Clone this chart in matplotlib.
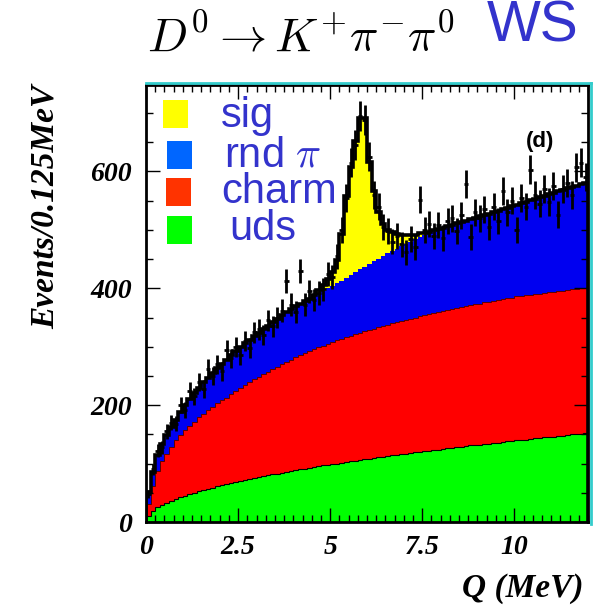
import numpy as np
import matplotlib.pyplot as plt
from matplotlib.patches import Rectangle
from matplotlib.lines import Line2D
from matplotlib.ticker import MultipleLocator

plt.rcParams['mathtext.fontset'] = 'cm'

# Q histogram, 96 bins of 0.125 MeV from 0 to 12 MeV
q_lo, q_hi, n_bins = 0.0, 12.0, 96

# stacked components (events per bin)
uds = [11, 19, 25, 29, 33, 36, 40, 43, 45, 48,
       50, 53, 55, 57, 59, 61, 63, 65, 67, 69,
       70, 72, 74, 75, 77, 79, 80, 82, 83, 84,
       86, 87, 89, 90, 91, 93, 94, 95, 97, 98,
       99, 100, 101, 103, 104, 105, 106, 107, 108, 109,
       111, 112, 113, 114, 115, 116, 117, 118, 119, 120,
       121, 122, 123, 124, 125, 126, 127, 128, 129, 130,
       131, 132, 132, 133, 134, 135, 136, 137, 138, 139,
       140, 140, 141, 142, 143, 144, 145, 146, 146, 147,
       148, 149, 150, 150, 151, 152]
charm = [19, 43, 63, 75, 84, 93, 100, 106, 112, 117,
         122, 126, 130, 134, 138, 142, 145, 148, 152, 155,
         159, 162, 165, 169, 171, 174, 177, 180, 183, 186,
         188, 191, 193, 195, 198, 199, 202, 204, 205, 207,
         209, 211, 213, 214, 215, 217, 218, 220, 221, 222,
         222, 224, 225, 226, 227, 228, 229, 230, 231, 232,
         233, 234, 235, 235, 236, 237, 238, 238, 239, 240,
         240, 241, 242, 243, 243, 244, 244, 245, 245, 245,
         246, 247, 247, 247, 247, 247, 247, 247, 248, 248,
         248, 248, 248, 249, 249, 249]
rnd_pi = [22, 23, 27, 30, 32, 33, 35, 39, 43, 46,
          49, 51, 54, 56, 58, 60, 62, 65, 66, 68,
          70, 72, 73, 74, 76, 77, 79, 80, 82, 84,
          85, 86, 87, 89, 89, 90, 90, 92, 93, 95,
          96, 98, 99, 101, 104, 106, 109, 110, 113, 115,
          118, 119, 122, 124, 126, 128, 130, 132, 134, 136,
          137, 138, 139, 141, 142, 143, 144, 145, 146, 146,
          148, 148, 149, 150, 151, 152, 153, 154, 155, 157,
          157, 159, 160, 162, 163, 165, 166, 168, 169, 171,
          172, 174, 175, 176, 178, 179]
sig = [0, 0, 0, 0, 0, 0, 0, 0, 0, 0,
       0, 0, 0, 0, 0, 0, 0, 0, 0, 0,
       0, 0, 0, 0, 0, 0, 0, 0, 0, 0,
       0, 0, 0, 0, 0, 0, 3, 6, 10, 16,
       24, 40, 80, 140, 185, 225, 258, 255, 175, 120,
       80, 55, 40, 32, 25, 20, 15, 11, 8, 6,
       4, 3, 2, 1, 0, 0, 0, 0, 0, 0,
       0, 0, 0, 0, 0, 0, 0, 0, 0, 0,
       0, 0, 0, 0, 0, 0, 0, 0, 0, 0,
       0, 0, 0, 0, 0, 0]

# data points
data = [48, 90, 122, 128, 155, 170, 168, 200, 192, 225,
        215, 240, 228, 262, 250, 270, 258, 295, 280, 300,
        285, 310, 298, 325, 330, 320, 345, 335, 350, 362,
        412, 372, 360, 430, 372, 395, 380, 392, 398, 425,
        420, 455, 500, 555, 615, 645, 695, 688, 625, 560,
        540, 505, 498, 480, 490, 475, 462, 485, 470, 552,
        500, 510, 490, 508, 486, 515, 520, 498, 525, 578,
        488, 530, 520, 535, 505, 540, 515, 566, 530, 550,
        500, 555, 540, 603, 560, 545, 570, 548, 575, 526,
        570, 580, 560, 607, 615, 590]

legend_labels = ["sig", r"rnd $\pi$", "charm", "uds"]

edges = np.linspace(q_lo, q_hi, n_bins + 1)
centers = 0.5 * (edges[1:] + edges[:-1])
half_bin = 0.5 * (edges[1] - edges[0])

s1 = np.array(uds, dtype=float)
s2 = s1 + np.array(charm)
s3 = s2 + np.array(rnd_pi)
s4 = s3 + np.array(sig)
d = np.array(data, dtype=float)

W, H = 595, 607
fig = plt.figure(figsize=(W / 100, H / 100), dpi=100)
ax = fig.add_axes([146 / W, 1 - 522 / H, 442 / W, 437 / H])

c_green, c_red, c_blue, c_yellow = "#00ff00", "#ff0000", "#0000f0", "#ffff00"
ax.stairs(s1, edges, baseline=0, fill=True, color=c_green, lw=0)
ax.stairs(s2, edges, baseline=s1, fill=True, color=c_red, lw=0)
ax.stairs(s3, edges, baseline=s2, fill=True, color=c_blue, lw=0)
ax.stairs(s4, edges, baseline=s3, fill=True, color=c_yellow, lw=0)
ax.stairs(s1, edges, color="black", lw=0.8)
ax.stairs(s2, edges, color="#400000", lw=0.6)
ax.stairs(s4, edges, color="black", lw=2.6)

ax.errorbar(centers, d, yerr=np.sqrt(d), xerr=half_bin, fmt="none",
            ecolor="black", elinewidth=2.0, capsize=0)

ax.set_xlim(q_lo, q_hi)
ax.set_ylim(0, 748)
ax.xaxis.set_major_locator(MultipleLocator(2.5))
ax.xaxis.set_minor_locator(MultipleLocator(0.25))
ax.yaxis.set_major_locator(MultipleLocator(200))
ax.yaxis.set_minor_locator(MultipleLocator(50))
ax.tick_params(which="both", direction="in", top=True, right=True, width=1)
ax.tick_params(which="major", length=10)
ax.tick_params(which="minor", length=5)
ax.tick_params(axis="x", pad=9)
ax.tick_params(axis="y", pad=10)
ax.set_xticks([0, 2.5, 5, 7.5, 10])
ax.set_xticklabels(["0", "2.5", "5", "7.5", "10"])
for lab in ax.get_xticklabels() + ax.get_yticklabels():
    lab.set_family("Liberation Serif")
    lab.set_style("italic")
    lab.set_weight("bold")
    lab.set_fontsize(20)
for sp in ax.spines.values():
    sp.set_linewidth(2)

# cyan frame shadow on top and right
fig.add_artist(Line2D([146 / W, 591 / W], [1 - 83 / H, 1 - 83 / H], color="#33cccc", lw=2))
fig.add_artist(Line2D([591 / W, 591 / W], [1 - 83 / H, 1 - 524 / H], color="#33cccc", lw=2))

# legend
boxes = [(163, 100, "#ffff00"), (167, 141, "#0066ff"), (166, 178, "#ff3300"), (167, 216, "#00ff00")]
text_x = [221, 224, 221, 229]
text_y = [116, 155, 192, 229]
for (bx, by, col), lab, tx, ty in zip(boxes, legend_labels, text_x, text_y):
    fig.add_artist(Rectangle((bx / W, 1 - (by + 28) / H), 25 / W, 28 / H,
                             transform=fig.transFigure, color=col, lw=0))
    fig.text(tx / W, 1 - ty / H, lab, fontsize=30, color="#3333cc",
             family="Liberation Sans", ha="left", va="center")

fig.text(540 / W, 1 - 141 / H, "(d)", fontsize=16, fontweight="bold",
         family="Liberation Sans", ha="center", va="center")

# titles and axis labels
fig.text(147 / W, 1 - 38 / H, r"$D^0 \rightarrow K^{+}\pi^{-}\pi^{0}$",
         fontsize=34, ha="left", va="center")
fig.text(487 / W, 1 - 26 / H, "WS", fontsize=41, color="#3333cc",
         family="Liberation Sans", ha="left", va="center")
fig.text(45 / W, 1 - 207 / H, "Events/0.125MeV", rotation=90, fontsize=24,
         family="Liberation Serif", style="italic", fontweight="bold",
         ha="center", va="center")
fig.text(583 / W, 1 - 588 / H, "Q (MeV)", fontsize=24,
         family="Liberation Serif", style="italic", fontweight="bold",
         ha="right", va="center")

fig.savefig("out.png", dpi=100)
